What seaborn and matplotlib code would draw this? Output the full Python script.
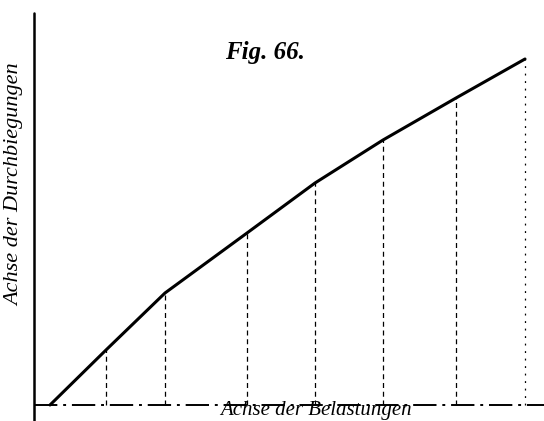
import pandas as pd
import matplotlib
matplotlib.use('Agg')
import matplotlib.pyplot as plt
import seaborn as sns

belastung = [0, 56, 115, 197, 265, 333, 406, 475]
durchbiegung = [0, 55, 112, 172, 222, 265, 307, 346]

titel = "Fig. 66."
xlabel = "Achse der Belastungen"
ylabel = "Achse der Durchbiegungen"

df = pd.DataFrame({"belastung": belastung, "durchbiegung": durchbiegung})

sns.set_style("white")
plt.rcParams['font.family'] = ['Liberation Serif', 'DejaVu Serif']
plt.rcParams['text.color'] = 'black'

fig = plt.figure(figsize=(5.44, 4.21), dpi=100)
ax = fig.add_axes([0, 0, 1, 1])
ax.set_xlim(-50, 494)
ax.set_ylim(-16, 405)
ax.axis('off')

# Achsen
ax.axvline(-16, ymin=0, ymax=(392 + 16) / 421, color='black', lw=1.8)
ax.axhline(0, xmin=34 / 544, xmax=1, color='black', lw=1.4,
           dashes=(12, 3, 1.5, 3))

# Ordinaten (gestrichelt)
ax.vlines(df["belastung"][1:-1], 0, df["durchbiegung"][1:-1],
          color='black', lw=0.9, linestyles=(0, (4, 3)))
ax.vlines(df["belastung"].iloc[-1], 0, df["durchbiegung"].iloc[-1],
          color='black', lw=0.9, linestyles=(0, (1.5, 4.5)))

# Kurve
sns.lineplot(data=df, x="belastung", y="durchbiegung", color='black',
             lw=2.2, ax=ax, estimator=None, sort=False)

ax.text(215, 352, titel, ha='center', va='center', fontsize=18,
        fontweight='bold', fontstyle='italic', color='black')
ax.text(-35, 220, ylabel, rotation=90, ha='center', va='center',
        fontsize=16, fontstyle='italic', color='black')
ax.text(266, -15, xlabel, ha='center', va='bottom', fontsize=15,
        fontstyle='italic', color='black')

fig.savefig("out.png", dpi=100)
